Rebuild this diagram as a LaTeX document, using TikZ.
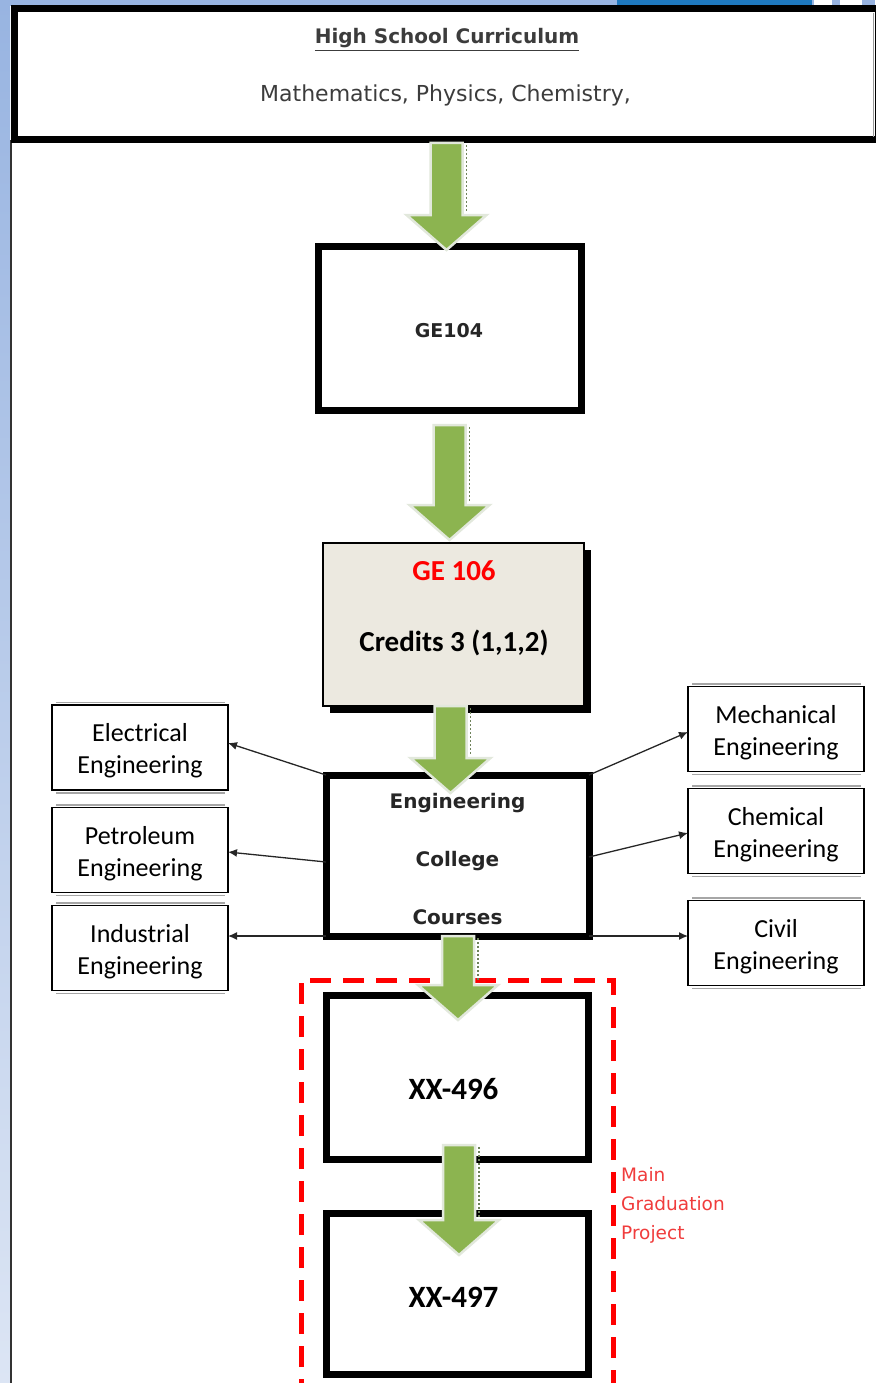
\documentclass[tikz,border=0pt]{standalone}
\usepackage{fontspec}
\setmainfont{Carlito}
\newfontfamily\dvs{DejaVu Sans}
\usetikzlibrary{calc,arrows.meta,shadows}

\definecolor{gfill}{RGB}{140,180,80}
\definecolor{ghalo}{RGB}{226,232,220}
\definecolor{gdotc}{RGB}{110,130,90}
\definecolor{beige}{RGB}{236,233,224}
\definecolor{redd}{RGB}{255,0,0}
\definecolor{mgp}{RGB}{240,60,60}
\definecolor{txtgray}{RGB}{60,60,60}
\definecolor{blueA}{RGB}{152,180,225}
\definecolor{blueB}{RGB}{220,229,244}
\definecolor{blueDark}{RGB}{30,120,190}

\newcommand\sidestrut{\rule{0pt}{25pt}}

\tikzset{
 thickbox/.style={draw=black, line width=7pt, fill=white, inner sep=0pt, outer sep=0pt, rectangle},
 sidebox/.style={draw=black, line width=1.6pt, fill=white, minimum width=176pt, minimum height=85pt, inner sep=0pt, outer sep=0pt, align=center, font=\fontsize{26}{32}\selectfont},
 sideshadow/.style={draw=black!35, line width=1.2pt},
 link/.style={draw=black!85, line width=1.3pt, -{Latex[length=9pt,width=8pt]}},
 gar/.style={fill=gfill, draw=ghalo, line width=2.5pt, line join=miter},
 gdot/.style={draw=gdotc, line width=1.5pt, dash pattern=on 2pt off 2pt},
 dtext/.style={anchor=base, inner sep=0pt, font=\dvs\fontsize{20}{24}\selectfont\bfseries, text=black!85},
 ctext/.style={anchor=base, inner sep=0pt, font=\fontsize{29}{34}\selectfont\bfseries, text=black},
 mtext/.style={anchor=base west, inner sep=0pt, font=\dvs\fontsize{18.5}{22}\selectfont, text=mgp},
}

\newcommand\garrow[2]{%
  \coordinate (gs) at #1;
  \coordinate (ge) at #2;
  \coordinate (gt) at (gs -| ge);
  \filldraw[gar] ($(gt)+(-16,0)$) -- ($(gt)+(16,0)$) -- ($(ge)+(16,-35)$) -- ($(ge)+(40,-35)$) -- (ge) -- ($(ge)+(-40,-35)$) -- ($(ge)+(-16,-35)$) -- cycle;
  \draw[gdot] ($(gt)+(20,2)$) -- ($(ge)+(20,-38)$);
}
\newcommand\sshadow[1]{%
  \draw[sideshadow] ($(#1.north west)+(4,-2.5)$) -- ($(#1.north east)+(-3,-2.5)$);
  \draw[sideshadow] ($(#1.south west)+(4,3)$) -- ($(#1.south east)+(-3,3)$);
}

\begin{document}
\begin{tikzpicture}[x=1pt,y=-1pt]
\useasboundingbox (0,0) rectangle (875,1383);
% window frame
\shade[top color=blueA, bottom color=blueB] (0,0) rectangle (10,1383);
\fill[blueA] (0,0) rectangle (875,6);
\fill[blueDark] (617,0) rectangle (812,7);
\fill[white] (814,0) rectangle (832,6);
\fill[white] (840,0) rectangle (862,6);
\draw[black!80, line width=1.6pt] (10.8,140) -- (10.8,1383);

% top box
\node[thickbox, minimum width=864pt, minimum height=131pt] (top) at (446,74.5) {};
\node[anchor=base, inner sep=0pt, font=\dvs\fontsize{20}{24}\selectfont\bfseries, text=txtgray] (title) at (447,44) {\underline{High School Curriculum}};
\node[anchor=base, inner sep=0pt, font=\dvs\fontsize{22}{26}\selectfont, text=txtgray] (subj) at (445.5,102) {Mathematics, Physics, Chemistry,};
\draw[black!40, line width=1pt] (873,13) -- (873,137);

% GE104
\node[thickbox, minimum width=263pt, minimum height=164pt] (ge104) at (449.5,328) {};
\node[anchor=base, inner sep=0pt, font=\dvs\fontsize{19}{22}\selectfont\bfseries, text=black!85] (ge104t) at (449,337) {GE104};

% GE106
\node[draw=black, line width=1.5pt, fill=beige, minimum width=261pt, minimum height=163pt, inner sep=0pt, outer sep=0pt,
      drop shadow={shadow xshift=7pt, shadow yshift=-7pt, fill=black, opacity=1}] (ge106) at (453.5,624.5) {};
\node[ctext, text=redd] (ge106a) at (454,580) {GE 106};
\node[ctext] (ge106b) at (454,651) {Credits 3 (1,1,2)};

% Engineering college courses
\node[thickbox, minimum width=263pt, minimum height=161pt] (ecc) at (457.5,855.5) {};
\node[dtext] (ecc1) at (457.5,808) {Engineering};
\node[dtext] (ecc2) at (457.5,866) {College};
\node[dtext] (ecc3) at (457.5,924) {Courses};

% graduation project frame
\draw[redd, line width=5pt, dash pattern=on 21pt off 12pt] (301,1400) -- (301,980) -- (613,980) -- (613,1400);
\node[mtext] (mgp1) at (621,1181) {Main};
\node[mtext] (mgp2) at (621,1210) {Graduation};
\node[mtext] (mgp3) at (621,1239) {Project};

% XX-496 / XX-497
\node[thickbox, minimum width=262pt, minimum height=164pt] (xx496) at (457,1077) {};
\node[ctext, font=\fontsize{31}{36}\selectfont\bfseries] (xx496t) at (453.5,1099) {XX-496};
\node[thickbox, minimum width=262pt, minimum height=161pt] (xx497) at (457,1293.5) {};
\node[ctext, font=\fontsize{31}{36}\selectfont\bfseries] (xx497t) at (453.5,1307) {XX-497};

% side boxes
\node[sidebox] (elec) at (140,747.5) {\sidestrut Electrical\\Engineering};
\node[sidebox] (petro) at (140,850) {\sidestrut Petroleum\\Engineering};
\node[sidebox] (indus) at (140,948) {\sidestrut Industrial\\Engineering};
\node[sidebox] (mech) at (776,729) {\sidestrut Mechanical\\Engineering};
\node[sidebox] (chem) at (776,831) {\sidestrut Chemical\\Engineering};
\node[sidebox] (civil) at (776,943) {\sidestrut Civil\\Engineering};
\sshadow{elec}\sshadow{petro}\sshadow{indus}\sshadow{mech}\sshadow{chem}\sshadow{civil}

% connectors
\draw[link] (ecc.north west) -- ([yshift=4.5pt]elec.east);
\draw[link] ([yshift=-6.5pt]ecc.west) -- ([yshift=-2pt]petro.east);
\draw[link] (ecc.south west) -- (ecc.south west -| indus.east);
\draw[link] (ecc.north east) -- ([yshift=-3pt]mech.west);
\draw[link] ([yshift=-1.5pt]ecc.east) -- ([yshift=-2pt]chem.west);
\draw[link] (ecc.south east) -- (ecc.south east -| civil.west);

% green block arrows
\garrow{($(top.south)+(0,3)$)}{($(ge104.north)+(-3,4)$)}
\garrow{($(ge104.south)+(0,15)$)}{($(ge106.north)+(-4,-3)$)}
\garrow{(ge106.south)}{($(ecc.north)+(-7,18)$)}
\garrow{(ecc.south)}{($(xx496.north)+(1,25)$)}
\garrow{($(xx496.south)+(0,-14)$)}{($(xx497.north)+(2,42)$)}
\end{tikzpicture}
\end{document}
